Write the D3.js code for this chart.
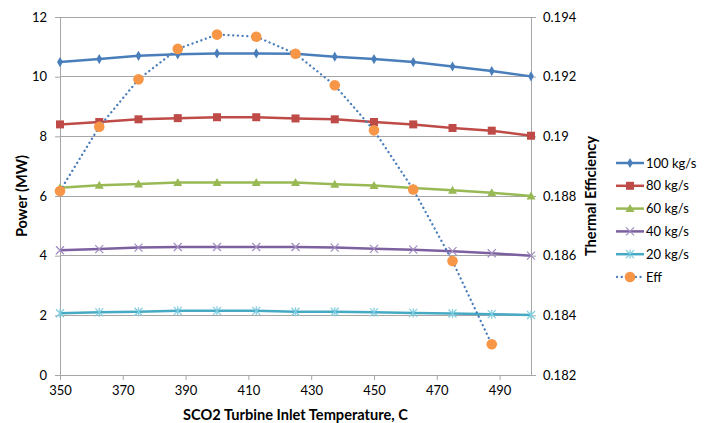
<!DOCTYPE html>
<html><head><meta charset="utf-8">
<script src="https://cdn.jsdelivr.net/npm/d3@7"></script>
<style>body{margin:0;background:#fff}text{font-family:Lato,"Open Sans",sans-serif}</style>
</head><body><svg id="c" width="704" height="423"></svg>
<script>
const temps = [350,362.5,375,387.5,400,412.5,425,437.5,450,462.5,475,487.5,500];
const p100 = [10.49,10.59,10.70,10.75,10.78,10.78,10.77,10.67,10.59,10.49,10.34,10.19,10.01];
const p80  = [8.40,8.48,8.57,8.61,8.64,8.64,8.60,8.57,8.48,8.40,8.28,8.19,8.02];
const p60  = [6.28,6.36,6.40,6.45,6.45,6.45,6.45,6.39,6.35,6.27,6.19,6.11,6.00];
const p40  = [4.18,4.22,4.27,4.29,4.29,4.29,4.29,4.27,4.23,4.20,4.15,4.08,4.00];
const p20  = [2.07,2.10,2.12,2.15,2.15,2.15,2.12,2.12,2.10,2.08,2.06,2.04,2.01];
const effTemps = [350,362.5,375,387.5,400,412.5,425,437.5,450,462.5,475,487.5];
const eff = [0.18817,0.19032,0.19191,0.19293,0.19341,0.19334,0.19277,0.19171,0.19020,0.18822,0.18582,0.18303];
const xTicks = [350,370,390,410,430,450,470,490];
const yTicks = [0,2,4,6,8,10,12];
const y2Ticks = [0.182,0.184,0.186,0.188,0.19,0.192,0.194];
const seriesNames = ["100 kg/s","80 kg/s","60 kg/s","40 kg/s","20 kg/s","Eff"];

const svg = d3.select("#c");
const L=60,R=531,T=17,B=375;
const x = d3.scaleLinear().domain([350,500]).range([L,R]);
const y = d3.scaleLinear().domain([0,12]).range([B,T]);
const y2 = d3.scaleLinear().domain([0.182,0.194]).range([B,T]);
const grid="#a6a6a6", axisC="#a6a6a6";

svg.append("g").selectAll("line").data(yTicks.filter(d=>d>0)).join("line")
  .attr("x1",L).attr("x2",R).attr("y1",d=>y(d)).attr("y2",d=>y(d))
  .attr("stroke",grid).attr("stroke-width",1).attr("shape-rendering","crispEdges");

function styleAxis(g){
  g.select(".domain").attr("stroke",axisC);
  g.selectAll(".tick line").attr("stroke",axisC);
  g.selectAll(".tick text").attr("fill","#000").attr("font-size",13).style("font-family","Lato,'Open Sans',sans-serif");
}
svg.append("g").attr("transform",`translate(0,${B})`)
  .call(d3.axisBottom(x).tickValues(xTicks).tickSize(5).tickSizeOuter(0).tickPadding(6))
  .call(styleAxis);
svg.append("g").attr("transform",`translate(${L},0)`)
  .call(d3.axisLeft(y).tickValues(yTicks).tickSize(5).tickSizeOuter(0).tickPadding(8))
  .call(styleAxis);
svg.append("g").attr("transform",`translate(${R},0)`)
  .call(d3.axisRight(y2).tickValues(y2Ticks).tickFormat(d=>String(+d.toFixed(3))).tickSize(5).tickSizeOuter(0).tickPadding(7))
  .call(styleAxis);

svg.append("text").attr("x",(L+R)/2).attr("y",420).attr("text-anchor","middle")
  .attr("font-size",14.6).attr("font-weight","bold").text("SCO2 Turbine Inlet Temperature, C");
svg.append("text").attr("transform","translate(27,196) rotate(-90)").attr("text-anchor","middle")
  .attr("font-size",14.6).attr("font-weight","bold").text("Power (MW)");
svg.append("text").attr("transform","translate(596,196) rotate(-90)").attr("text-anchor","middle")
  .attr("font-size",14.6).attr("font-weight","bold").text("Thermal Efficiency");

const colors = ["#4a7ebb","#be4b48","#98b954","#7d60a0","#46aac5","#f79646"];
const seriesData = [p100,p80,p60,p40,p20];
const markerTypes = ["diamond","square","triangle","x","star"];

function marker(g, type, cx, cy, col){
  if(type==="diamond"){
    g.append("path").attr("d",d3.symbol(d3.symbolDiamond,30)()).attr("transform",`translate(${cx},${cy})`).attr("fill",col);
  } else if(type==="square"){
    g.append("rect").attr("x",cx-4).attr("y",cy-4).attr("width",8).attr("height",8).attr("fill",col);
  } else if(type==="triangle"){
    g.append("path").attr("d",`M${cx},${cy-4.5}L${cx+4.5},${cy+3.5}L${cx-4.5},${cy+3.5}Z`).attr("fill",col);
  } else if(type==="x"){
    g.append("path").attr("d",`M${cx-4},${cy-4}L${cx+4},${cy+4}M${cx-4},${cy+4}L${cx+4},${cy-4}`).attr("stroke","#a08cc0").attr("stroke-width",1.2).attr("fill","none");
  } else if(type==="star"){
    g.append("path").attr("d",`M${cx-4},${cy-4}L${cx+4},${cy+4}M${cx-4},${cy+4}L${cx+4},${cy-4}M${cx},${cy-4.5}L${cx},${cy+4.5}`).attr("stroke","#7fcde0").attr("stroke-width",1.2).attr("fill","none");
  }
}

const line = d3.line().x((d,i)=>x(temps[i])).y(d=>y(d));
seriesData.forEach((s,k)=>{
  const g = svg.append("g");
  g.append("path").datum(s).attr("d",line).attr("fill","none").attr("stroke",colors[k]).attr("stroke-width",2.5).attr("stroke-linejoin","round");
  s.forEach((v,i)=>marker(g,markerTypes[k],x(temps[i]),y(v),colors[k]));
});

const effLine = d3.line().x((d,i)=>x(effTemps[i])).y(d=>y2(d));
const ge = svg.append("g");
ge.append("path").datum(eff).attr("d",effLine).attr("fill","none").attr("stroke","#4a7ebb")
  .attr("stroke-width",2.3).attr("stroke-dasharray","0.1 4.6").attr("stroke-linecap","round");
ge.selectAll("circle").data(eff).join("circle").attr("cx",(d,i)=>x(effTemps[i])).attr("cy",d=>y2(d)).attr("r",5.3).attr("fill",colors[5]);

const lg = svg.append("g");
seriesNames.forEach((n,k)=>{
  const yy = 163 + k*22.8;
  if(k<5){
    lg.append("line").attr("x1",616).attr("x2",644).attr("y1",yy).attr("y2",yy).attr("stroke",colors[k]).attr("stroke-width",2.5);
    marker(lg,markerTypes[k],630,yy,colors[k]);
  } else {
    lg.append("line").attr("x1",617).attr("x2",644).attr("y1",yy).attr("y2",yy).attr("stroke","#4a7ebb").attr("stroke-width",2.3).attr("stroke-dasharray","0.1 4.6").attr("stroke-linecap","round");
    lg.append("circle").attr("cx",630).attr("cy",yy).attr("r",5.3).attr("fill",colors[5]);
  }
  lg.append("text").attr("x",646).attr("y",yy+4.5).attr("font-size",13).attr("fill","#000").text(n);
});
</script></body></html>
